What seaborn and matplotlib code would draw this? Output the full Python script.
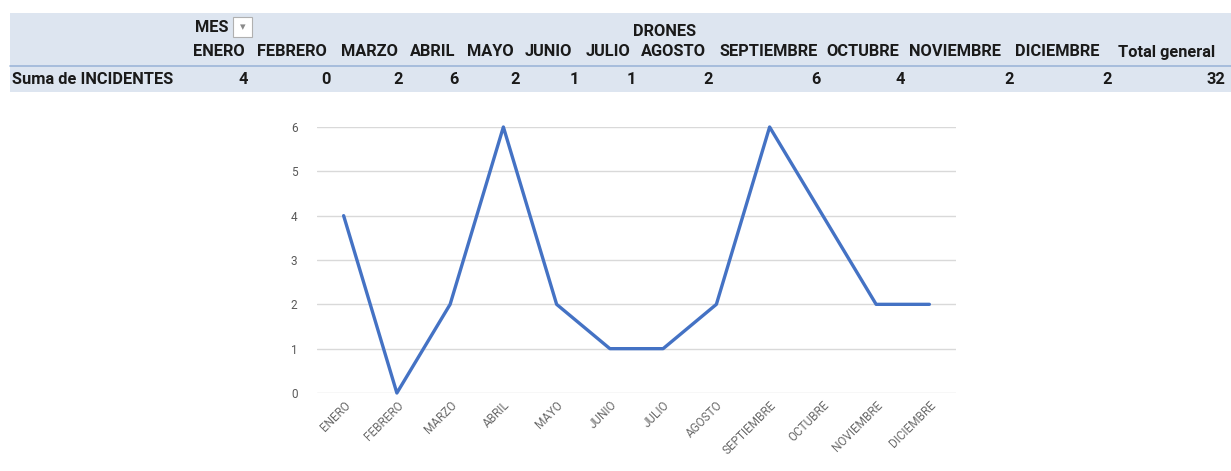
import numpy as np
import pandas as pd
import seaborn as sns
import matplotlib.pyplot as plt
from matplotlib.patches import Rectangle

meses = ["ENERO", "FEBRERO", "MARZO", "ABRIL", "MAYO", "JUNIO", "JULIO",
         "AGOSTO", "SEPTIEMBRE", "OCTUBRE", "NOVIEMBRE", "DICIEMBRE"]
incidentes = [4, 0, 2, 6, 2, 1, 1, 2, 6, 4, 2, 2]
total_label = "Total general"
row_label = "Suma de INCIDENTES"
y_ticks = [0, 1, 2, 3, 4, 5, 6]

# table layout (pixels)
W, H = 1231, 471
head_left = [193, 257, 341, 410, 467, 525, 586, 641, 720, 826, 909, 1015, 1118]
val_right = [248, 331, 403, 459, 520, 579, 636, 713, 821, 905, 1014, 1112, 1225]

sns.set_theme(style="white")
plt.rcParams["font.family"] = ["Roboto", "DejaVu Sans"]

fig = plt.figure(figsize=(W / 100, H / 100), dpi=100)

def px(x, y):
    return x / W, 1 - y / H

# pivot table band
band = Rectangle(px(10, 92), (W - 10) / W, 79 / H, transform=fig.transFigure,
                 facecolor="#dde5f0", edgecolor="none", zorder=0)
fig.patches.append(band)
fig.add_artist(plt.Line2D([10 / W, 1], [1 - 66 / H] * 2, transform=fig.transFigure,
                          color="#9db6d8", lw=1.2))

tkw = dict(fontsize=11.8, fontweight="bold", color="#1a1a1a", va="center")
fig.text(*px(195, 27), "MES", ha="left", **tkw)
box = Rectangle(px(233, 37), 19 / W, 20 / H, transform=fig.transFigure,
                facecolor="white", edgecolor="#b0b0b0", lw=0.8)
fig.patches.append(box)
fig.text(*px(242.5, 27), "\u25be", ha="center", va="center", fontsize=8,
         color="#8a8a8a", family="DejaVu Sans")
fig.text(*px(665, 31), "DRONES", ha="center", **tkw)

headers = meses + [total_label]
values = incidentes + [sum(incidentes)]
for lab, xl in zip(headers, head_left):
    fig.text(*px(xl, 52), lab, ha="left", **tkw)
fig.text(*px(12, 79), row_label, ha="left", **tkw)
for v, xr in zip(values, val_right):
    fig.text(*px(xr, 79), str(v), ha="right", **tkw)

# line chart
ax = fig.add_axes([317 / W, 1 - 393 / H, (956 - 317) / W, 266 / H])
df = pd.DataFrame({"MES": meses, "INCIDENTES": incidentes})
sns.lineplot(data=df, x="MES", y="INCIDENTES", ax=ax, color="#4472c4",
             linewidth=2.4, sort=False, clip_on=False)
ax.set_xlim(-0.5, len(meses) - 0.5)
ax.set_ylim(0, 6)
ax.set_yticks(y_ticks)
ax.yaxis.grid(True, color="#d9d9d9", lw=1)
ax.xaxis.grid(False)
for s in ax.spines.values():
    s.set_visible(False)
ax.set_xlabel("")
ax.set_ylabel("")
ax.tick_params(axis="y", length=0, pad=14, labelsize=8.5, labelcolor="#595959")
ax.tick_params(axis="x", length=0, pad=4, labelsize=8.5, labelcolor="#6a6a6a")
ax.set_xticks(range(len(meses)))
ax.set_xticklabels(meses, rotation=45, ha="right", rotation_mode="anchor")

fig.savefig("out.png", dpi=100)
